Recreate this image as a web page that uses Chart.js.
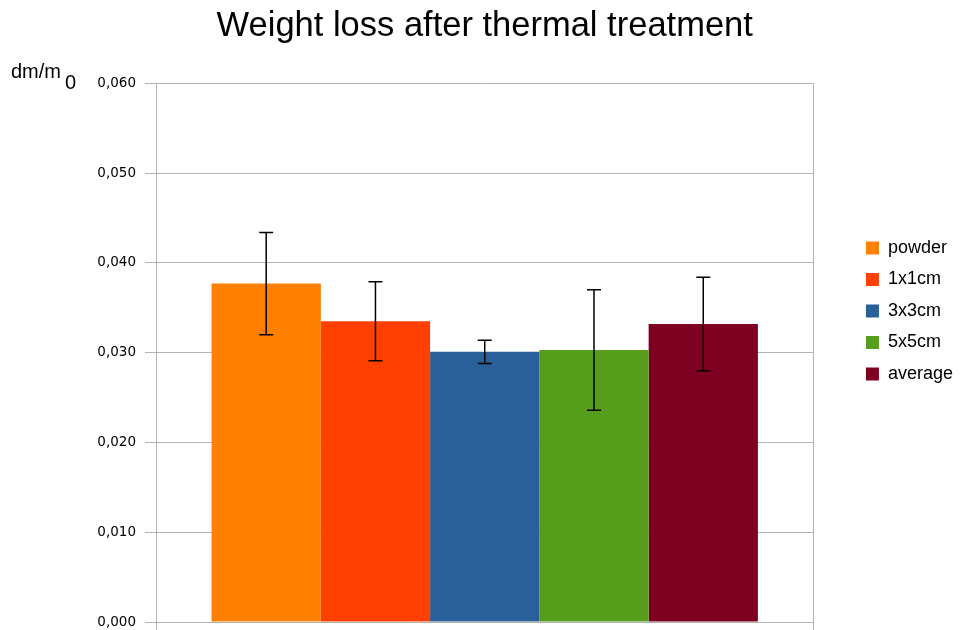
<!DOCTYPE html>
<html>
<head>
<meta charset="utf-8">
<script src="https://cdn.jsdelivr.net/npm/chart.js@4"></script>
<style>
  html, body { margin: 0; padding: 0; background: #fff; }
  #wrap { width: 963px; height: 630px; }
</style>
</head>
<body>
<div id="wrap"><canvas id="barChart"></canvas></div>
<script>
var seriesNames = ["powder", "1x1cm", "3x3cm", "5x5cm", "average"];
var seriesValues = [0.0377, 0.0335, 0.0301, 0.0303, 0.0332];
var seriesErrors = [0.0057, 0.0044, 0.0013, 0.0067, 0.0052];
var seriesColors = ["#ff8000", "#ff4000", "#2a6099", "#579d1c", "#7e0021"];
var yTicks = [0, 0.01, 0.02, 0.03, 0.04, 0.05, 0.06];

var gridColor = "#b3b3b3";

// error bars drawn from the y scale
var errorBars = {
  id: "errorBars",
  afterDatasetsDraw: function(chart) {
    var ctx = chart.ctx;
    var yScale = chart.scales.y;
    ctx.save();
    ctx.strokeStyle = "#000";
    ctx.lineWidth = 1.5;
    for (var i = 0; i < chart.data.datasets.length; i++) {
      var bar = chart.getDatasetMeta(i).data[0];
      var v = seriesValues[i];
      var e = seriesErrors[i];
      var top = yScale.getPixelForValue(v + e);
      var bot = yScale.getPixelForValue(v - e);
      ctx.beginPath();
      ctx.moveTo(bar.x, top);
      ctx.lineTo(bar.x, bot);
      ctx.moveTo(bar.x - 7, top);
      ctx.lineTo(bar.x + 7, top);
      ctx.moveTo(bar.x - 7, bot);
      ctx.lineTo(bar.x + 7, bot);
      ctx.stroke();
    }
    ctx.restore();
  }
};

// y axis title "dm/m0" with subscript
var yTitle = {
  id: "yTitle",
  afterDraw: function(chart) {
    var ctx = chart.ctx;
    ctx.save();
    ctx.fillStyle = "#000";
    ctx.textBaseline = "alphabetic";
    ctx.font = "20px 'Liberation Sans'";
    ctx.fillText("dm/m", 11, 78);
    ctx.fillText("0", 65, 89);
    ctx.restore();
  }
};

var datasets = [];
for (var i = 0; i < seriesNames.length; i++) {
  datasets.push({
    label: seriesNames[i],
    data: [seriesValues[i]],
    backgroundColor: seriesColors[i],
    borderWidth: 0,
    categoryPercentage: 0.831,
    barPercentage: 1.0
  });
}

var ctxB = document.getElementById("barChart").getContext("2d");
var myChart = new Chart(ctxB, {
  type: "bar",
  data: { labels: [""], datasets: datasets },
  plugins: [errorBars, yTitle],
  options: {
    responsive: true,
    maintainAspectRatio: false,
    animation: false,
    layout: { padding: { left: 0, right: 0, top: 0, bottom: 8 } },
    plugins: {
      title: {
        display: true,
        fullSize: false,
        text: "Weight loss after thermal treatment",
        color: "#000",
        font: { family: "'Liberation Sans'", size: 34.5, weight: "normal" },
        padding: { top: 6, bottom: 36 }
      },
      legend: {
        position: "right",
        labels: {
          boxWidth: 13,
          boxHeight: 13,
          padding: 13.5,
          color: "#000",
          font: { family: "'Liberation Sans'", size: 18 }
        }
      },
      tooltip: { enabled: false }
    },
    scales: {
      x: {
        grid: { color: gridColor, tickLength: 8, offset: true },
        border: { color: gridColor },
        ticks: { display: false },
        afterFit: function(s) { s.height = 0; }
      },
      y: {
        min: 0,
        max: 0.06,
        afterBuildTicks: function(s) {
          s.ticks = yTicks.map(function(v) { return { value: v }; });
        },
        afterFit: function(s) {
          s.width = 156;
          s.paddingTop = 0;
          s.paddingBottom = 0;
        },
        grid: { color: gridColor, tickLength: 11 },
        border: { color: gridColor },
        ticks: {
          padding: 9,
          color: "#000",
          font: { family: "'DejaVu Sans'", size: 13.5 },
          callback: function(v) { return v.toFixed(3).replace(".", ","); }
        }
      },
      yR: {
        position: "right",
        display: true,
        grid: { display: false },
        border: { display: false },
        ticks: { display: false },
        afterFit: function(s) { s.width = 39; }
      }
    }
  }
});
</script>
</body>
</html>
